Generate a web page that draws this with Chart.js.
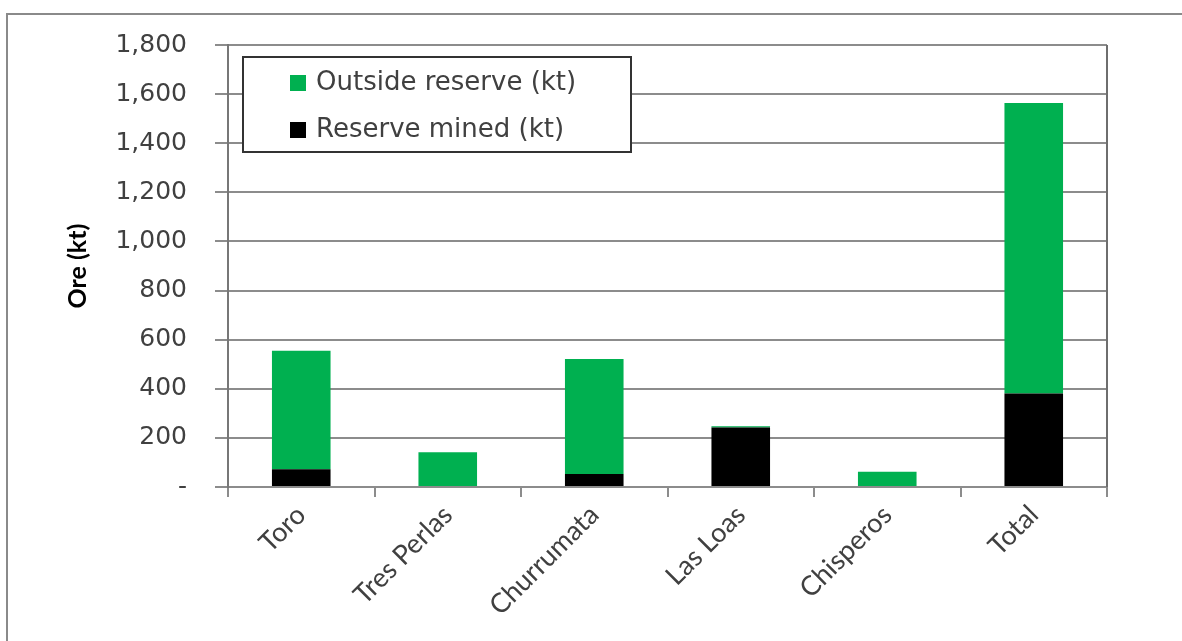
<!DOCTYPE html>
<html lang="en">
<head>
    <meta charset="UTF-8">
    <title>Ore (kt)</title>
    <script src="https://cdn.jsdelivr.net/npm/chart.js@4.4.1/dist/chart.umd.min.js"></script>
    <style>
        body { margin: 0; background: #fff; }
        #wrap { position: relative; width: 1182px; height: 641px; overflow: hidden; }
        #frame {
            position: absolute; left: 6px; top: 13px; width: 1200px; height: 700px;
            border-left: 2px solid #8a8a8a; border-top: 2px solid #8a8a8a;
        }
        #chart { position: absolute; left: 0; top: 0; }
    </style>
</head>
<body>
<div id="wrap">
    <div id="frame"></div>
    <canvas id="chart" width="1182" height="641"></canvas>
</div>

<script>
// Ore by deposit, in kt
const sites = ['Toro', 'Tres Perlas', 'Churrumata', 'Las Loas', 'Chisperos', 'Total'];
const reserveMined = [72, 0, 53, 242, 0, 381];
const outsideReserve = [483, 142, 468, 5, 62, 1183];

const GREEN = '#00b050';
const GRID = '#8c8c8c';
const TEXT = '#404040';

// boxed legend sitting inside the plot, plus the right-hand plot border
const boxLegend = {
    id: 'boxLegend',
    afterDatasetsDraw(chart) {
        const a = chart.chartArea, ctx = chart.ctx;
        ctx.save();
        ctx.strokeStyle = '#6e6e6e';
        ctx.lineWidth = 2;
        ctx.beginPath();
        ctx.moveTo(a.right, a.top);
        ctx.lineTo(a.right, a.bottom);
        ctx.stroke();
        ctx.restore();
    },
    afterDraw(chart) {
        const a = chart.chartArea, ctx = chart.ctx;
        const x = a.left + 15, y = a.top + 12, w = 388, h = 95;
        ctx.save();
        ctx.fillStyle = '#fff';
        ctx.fillRect(x, y, w, h);
        ctx.strokeStyle = '#333';
        ctx.lineWidth = 2;
        ctx.strokeRect(x, y, w, h);
        ctx.font = '26px "DejaVu Sans"';
        ctx.textBaseline = 'middle';
        const items = chart.data.datasets.slice().reverse();
        items.forEach((ds, i) => {
            const cy = y + 26 + i * 47;
            ctx.fillStyle = ds.backgroundColor;
            ctx.fillRect(x + 47, cy - 8, 16, 16);
            ctx.fillStyle = TEXT;
            ctx.fillText(ds.label, x + 73, cy);
        });
        ctx.restore();
    }
};

new Chart(document.getElementById('chart'), {
    type: 'bar',
    data: {
        labels: sites,
        datasets: [
            { label: 'Reserve mined (kt)', data: reserveMined, backgroundColor: '#000000' },
            { label: 'Outside reserve (kt)', data: outsideReserve, backgroundColor: GREEN }
        ]
    },
    options: {
        responsive: false,
        animation: false,
        devicePixelRatio: 1,
        categoryPercentage: 1,
        barPercentage: 0.4,
        layout: { padding: { top: 45, right: 75, left: 0, bottom: 0 } },
        plugins: {
            legend: { display: false },
            tooltip: { enabled: false }
        },
        scales: {
            x: {
                stacked: true,
                afterFit(scale) { scale.height = 154; },
                grid: {
                    offset: true,
                    drawOnChartArea: false,
                    drawTicks: true,
                    tickLength: 10,
                    color: GRID,
                    lineWidth: 2
                },
                border: { color: GRID, width: 2 },
                ticks: {
                    autoSkip: false,
                    minRotation: 45,
                    maxRotation: 45,
                    padding: 2,
                    color: TEXT,
                    font: { family: 'Lato', size: 27 }
                }
            },
            y: {
                stacked: true,
                min: 0,
                max: 1800,
                afterFit(scale) { scale.width = 228; },
                grid: {
                    color: GRID,
                    lineWidth: 2,
                    tickLength: 13
                },
                border: { color: '#777', width: 2 },
                ticks: {
                    stepSize: 200,
                    padding: 28,
                    color: TEXT,
                    font: { family: 'DejaVu Sans', size: 25 },
                    callback: v => v === 0 ? '-' : v.toLocaleString('en-US')
                },
                title: {
                    display: true,
                    text: 'Ore (kt)',
                    color: '#000',
                    padding: { top: 63, bottom: 0 },
                    font: { family: 'Lato', size: 25, weight: 'bold' }
                }
            }
        }
    },
    plugins: [boxLegend]
});
</script>
</body>
</html>
